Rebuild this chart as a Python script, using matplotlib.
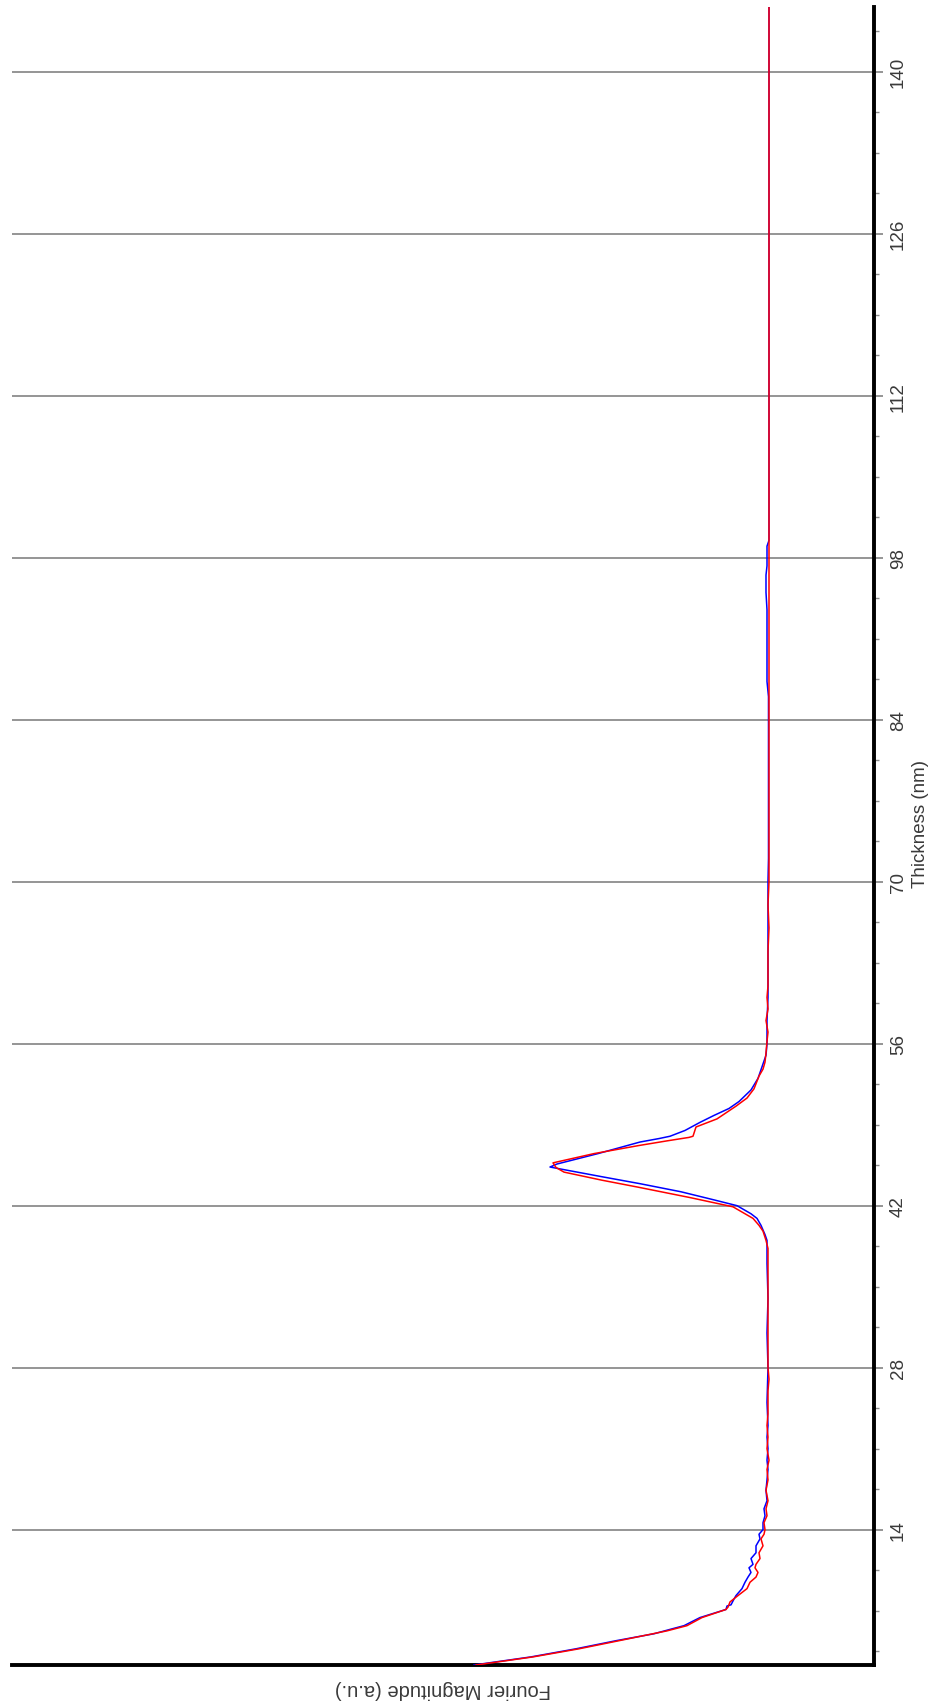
import matplotlib
matplotlib.use("Agg")
import matplotlib.pyplot as plt
from matplotlib.ticker import MultipleLocator

plt.rcParams["font.family"] = ["Liberation Sans", "DejaVu Sans"]

# ── Data: thickness (nm) vs Fourier magnitude (a.u.) ─────────────────────────
red_t = [2.3, 3.0, 3.7, 4.4, 5.25, 5.7, 6.4, 7.1, 7.3, 7.75, 8.3, 8.9, 9.45,
         9.9, 10.3, 10.7, 11.0, 11.5, 12.0, 12.6, 13.2, 13.6, 14.0, 14.6,
         15.2, 15.8, 16.5, 17.4, 18.3, 19.2, 20.0, 21.0, 22.0, 23.0, 24.0,
         25.0, 26.0, 27.0, 28.0, 30.0, 32.0, 34.0, 36.0, 37.5, 38.3, 39.0,
         39.8, 40.3, 40.9, 41.3, 41.9, 42.7, 43.6, 44.2, 44.9, 45.3, 45.7,
         46.5, 47.2, 47.6, 47.9, 48.0, 48.8, 49.5, 50.6, 51.3, 52.1, 53.2,
         53.8, 54.4, 55.2, 56.2, 57.0, 58.0, 59.0, 60.0, 61.0, 62.0, 64.0,
         66.0, 68.0, 70.0, 80.0, 100.0, 120.0, 145.6]
red_mag = [2.93, 2.36, 1.90, 1.50, 1.02, 0.82, 0.67, 0.43, 0.41, 0.39, 0.31,
           0.22, 0.19, 0.13, 0.11, 0.14, 0.13, 0.09, 0.10, 0.06, 0.08, 0.05,
           0.04, 0.05, 0.02, 0.03, 0.01, 0.03, 0.01, 0.02, 0.00, 0.02, 0.01,
           0.02, 0.01, 0.01, 0.01, 0.00, 0.01, 0.01, 0.01, 0.01, 0.01, 0.01,
           0.01, 0.03, 0.06, 0.10, 0.16, 0.24, 0.36, 0.79, 1.31, 1.67, 2.05,
           2.13, 2.16, 1.75, 1.30, 1.02, 0.80, 0.76, 0.73, 0.52, 0.33, 0.22,
           0.15, 0.10, 0.06, 0.04, 0.03, 0.02, 0.01, 0.03, 0.01, 0.02, 0.01,
           0.01, 0.01, 0.00, 0.01, 0.00, 0.00, 0.00, 0.00, 0.00]

blue_t = [2.3, 3.0, 3.7, 4.4, 5.0, 5.4, 5.7, 6.4, 7.1, 7.4, 7.5, 8.0, 8.3,
          8.9, 9.45, 9.9, 10.3, 10.7, 11.0, 11.5, 12.0, 12.6, 13.2, 13.6,
          14.0, 14.6, 15.2, 15.8, 16.5, 17.4, 18.3, 19.2, 20.0, 21.0, 22.0,
          23.0, 25.0, 28.0, 31.0, 34.0, 37.0, 39.0, 39.5, 40.3, 40.9, 41.3,
          42.0, 42.5, 43.2, 43.9, 44.5, 45.0, 45.34, 45.6, 46.5, 47.0, 47.5,
          47.8, 48.0, 48.5, 49.2, 49.8, 50.4, 51.0, 52.0, 53.0, 54.0, 55.0,
          56.0, 58.0, 60.0, 62.0, 66.0, 70.0, 72.0, 86.0, 87.3, 90.0, 92.0,
          93.5, 95.0, 96.5, 97.3, 99.0, 99.5, 145.6]
blue_mag = [2.95, 2.38, 1.93, 1.53, 1.15, 0.98, 0.85, 0.69, 0.43, 0.42, 0.38,
            0.35, 0.33, 0.27, 0.24, 0.21, 0.18, 0.20, 0.16, 0.18, 0.13, 0.13,
            0.09, 0.10, 0.06, 0.06, 0.04, 0.05, 0.02, 0.03, 0.02, 0.01, 0.02,
            0.01, 0.02, 0.01, 0.02, 0.01, 0.02, 0.01, 0.02, 0.02, 0.04, 0.08,
            0.12, 0.18, 0.32, 0.55, 0.88, 1.29, 1.67, 1.98, 2.19, 2.12, 1.71,
            1.50, 1.29, 1.10, 0.99, 0.84, 0.69, 0.55, 0.40, 0.30, 0.18, 0.11,
            0.07, 0.03, 0.02, 0.02, 0.01, 0.01, 0.01, 0.01, 0.005, 0.005, 0.02,
            0.02, 0.02, 0.02, 0.03, 0.03, 0.02, 0.02, 0.00, 0.00]

major_ticks = [14, 28, 42, 56, 70, 84, 98, 112, 126, 140]

# ── Figure (plot is drawn rotated: thickness runs upward) ────────────────────
fig = plt.figure(figsize=(9.32, 17.08), dpi=100)
fig.patch.set_facecolor("white")
ax = fig.add_axes([12 / 932, 42 / 1708, 862 / 932, 1658 / 1708])

ax.plot(blue_mag, blue_t, color="#0000ff", linewidth=1.1, zorder=3)
ax.plot(red_mag, red_t, color="#ff0000", linewidth=1.1, zorder=4)

ax.set_xlim(7.57, -1.05)
ax.set_ylim(2.3, 145.6)

ax.yaxis.tick_right()
ax.set_yticks(major_ticks)
ax.yaxis.set_minor_locator(MultipleLocator(3.5))
ax.grid(axis="y", which="major", color="#8c8c8c", linewidth=1.3, zorder=1)
ax.set_xticks([])
ax.tick_params(axis="y", which="major", length=6.5, width=1.3, color="#8c8c8c",
               pad=5, labelrotation=90, labelsize=13.5, labelcolor="#3a3a3a")
ax.tick_params(axis="y", which="minor", length=3.5, width=1.0, color="#8c8c8c")
for lbl in ax.get_yticklabels():
    lbl.set_verticalalignment("center")

ax.spines["left"].set_visible(False)
ax.spines["top"].set_visible(False)
ax.spines["right"].set_linewidth(2.8)
ax.spines["bottom"].set_linewidth(2.8)
ax.spines["right"].set_color("black")
ax.spines["bottom"].set_color("black")

ax.text(1.0545, 0.508, "Thickness (nm)", transform=ax.transAxes, rotation=90,
        ha="center", va="center", fontsize=13.5, color="#3a3a3a")
ax.text(0.5, -0.0139, "Fourier Magnitude (a.u.)", transform=ax.transAxes,
        rotation=180, ha="center", va="center", fontsize=14.5, color="#3a3a3a")

plt.savefig("out.png", dpi=100, facecolor="white")
